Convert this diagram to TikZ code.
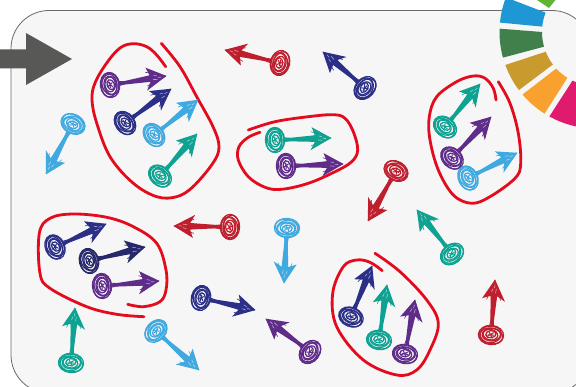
\documentclass[tikz,border=0pt]{standalone}
\definecolor{panelfill}{HTML}{F6F6F6}
\definecolor{panelline}{HTML}{6A6A6A}
\definecolor{arrowgray}{HTML}{585857}
\definecolor{loopred}{HTML}{E30B1D}
\definecolor{cpurple}{HTML}{5F2C8A}
\definecolor{cnavy}{HTML}{2B2F86}
\definecolor{cdark}{HTML}{26286B}
\definecolor{csky}{HTML}{3FA9E0}
\definecolor{cteal}{HTML}{0DA291}
\definecolor{cred}{HTML}{BE1E2D}
\definecolor{wblue}{HTML}{1F97D4}
\definecolor{wgreen}{HTML}{41804A}
\definecolor{wgold}{HTML}{C99A2E}
\definecolor{worange}{HTML}{F9A12E}
\definecolor{wpink}{HTML}{E01A6C}
\definecolor{wlime}{HTML}{5DB531}
\tikzset{
  redloop/.style={draw=loopred,line width=2.8pt,line cap=round,line join=round},
  scrib/.style={line width=1.25pt,line cap=round},
  hatch/.style={draw=panelfill,line width=0.6pt,opacity=0.6,line cap=round},
}
% colour, tail x,y, tip x,y
\newcommand\pin[5]{%
  \pgfmathsetmacro\pinang{atan2(-(#5-#3),#4-#2)}%
  \pgfmathsetmacro\pinlen{veclen(#4-#2,#5-#3)}%
  \begin{scope}[shift={(#2,#3)},rotate=\pinang]
    \draw[scrib,draw=#1] (0,0) ellipse [x radius=9.6,y radius=12.6];
    \draw[scrib,draw=#1,rotate=8] (0.6,-0.8) ellipse [x radius=8.4,y radius=11.2];
    \draw[scrib,draw=#1,rotate=-8] (-0.8,0.6) ellipse [x radius=7.8,y radius=11.4];
    \draw[scrib,draw=#1,rotate=5] (0.4,0.4) ellipse [x radius=6.4,y radius=9.2];
    \draw[scrib,draw=#1,rotate=-6] (0.2,-0.6) ellipse [x radius=5.2,y radius=7.4];
    \draw[scrib,draw=#1,rotate=12] (0.8,0) ellipse [x radius=3.6,y radius=5.2];
    \draw[scrib,draw=#1,line width=1pt] (-1.5,-3.5) -- (2.5,2.5) (-3,1.5) -- (2.5,-2) (0,-3) -- (0,3);
    \fill[#1] (8,-1.2) -- (\pinlen-14,-3.4) -- (\pinlen-14,3.4) -- (8,1.5) -- cycle;
    \draw[#1,line width=0.9pt] (8,2.2) -- (\pinlen-13,-3.2) (8,-2.2) -- (\pinlen-13,3.2);
    \fill[#1] (\pinlen+0.5,0) -- (\pinlen-21,11.5) -- (\pinlen-16,3) -- (\pinlen-16,-3) -- (\pinlen-19,-11.5) -- cycle;
    \draw[#1,line width=0.6pt] (\pinlen,0) -- (\pinlen-20,7) (\pinlen,0) -- (\pinlen-20,-7);
    \draw[hatch] (\pinlen-12,-2.5) -- (\pinlen-9,-1.5) (\pinlen-13,1.5) -- (\pinlen-9,2) (\pinlen-8,0) -- (\pinlen-5,0.4);
  \end{scope}}
% colour, outer start, outer end, inner end, inner start
\newcommand\wheelseg[5]{%
  \fill[#1] plot[smooth,domain=#2:#3,samples=9] ({596+96.5*cos(\x)},{32+96.5*sin(\x)})
    -- plot[smooth,domain=#4:#5,samples=9] ({596+54*cos(\x)},{32+54*sin(\x)}) -- cycle;}
\begin{document}
\begin{tikzpicture}[x=1pt,y=-1pt]
  \useasboundingbox (0,0) rectangle (576,387);
  \begin{scope}
    \clip (0,0) rectangle (576,387);
    \fill[white] (0,0) rectangle (576,387);
    \draw[draw=panelline,fill=panelfill,line width=0.8pt,rounded corners=38pt] (11,10.5) rectangle (590,393);
    % entry arrow
    \fill[arrowgray] (0,49.5) -- (26,49.5) -- (26,33) -- (72,59) -- (26,85) -- (26,68.5) -- (0,68.5) -- cycle;
    % wheel
    \fill[wlime] (534,-2) -- (549,8) -- (557,-2) -- cycle;
    \wheelseg{wblue}{201}{185.6}{185.7}{201}
    \wheelseg{wgreen}{182}{164.6}{164.2}{180}
    \wheelseg{wgold}{160}{143}{143}{158.6}
    \wheelseg{worange}{139.6}{122.2}{122}{137.4}
    \wheelseg{wpink}{118.9}{95}{95}{115.8}
    % loops
    \draw[redloop] plot[smooth,tension=0.6] coordinates {(165.7,66.7) (156.7,55) (146.7,46.7) (133,43.7) (120,48) (106.7,63) (95,83) (92,100) (96.7,123) (110,156.7) (133,183) (156.7,196.7) (176.7,196.7) (193,186.7) (213,163) (219,146.7) (213,126.7) (196.7,96.7) (180,66.7) (161.3,43.3)};
    \draw[redloop] plot[smooth,tension=0.6] coordinates {(260,132.3) (248.3,137.3) (239,146.7) (238.3,160) (248.3,176.7) (265,187.3) (281.7,189.3) (308.3,183.3) (335,171.7) (351.7,161.7) (357.7,150) (353.3,131.7) (345,118.3) (333.3,114.7) (308.3,116.7) (275,121.7) (248.3,130)};
    \draw[redloop] plot[smooth,tension=0.6] coordinates {(496,100) (493.3,88.3) (485,78.3) (473.3,76) (456.7,81.7) (436.7,96.7) (429.3,116.7) (430,140) (438.3,170) (453.3,195) (471.7,203.3) (490,196.7) (515,178.3) (520.7,163.3) (518.3,133.3) (510,103.3) (498.3,81.7)};
    \draw[redloop] plot[smooth,tension=0.6] coordinates {(127.7,304.3) (143.3,306.7) (160,301.7) (166,290) (166,270) (156.7,243.3) (133.3,226.7) (106.7,217.3) (73.3,214) (50,218.3) (39.3,233.3) (40,273.3) (50,288.3) (86.7,306.7) (116.7,314.3) (144,316.7)};
    \draw[redloop] plot[smooth,tension=0.6] coordinates {(382.3,270.7) (370,262.3) (356.7,260) (343.3,266.7) (332.7,293.3) (336.7,326.7) (363.3,360) (396.7,375) (416.7,370) (430,350) (438.3,323.3) (426.7,300) (400,271.7) (375,253.3)};
    % pins
    \pin{cpurple}{110}{85}{166}{76}
    \pin{cnavy}{125}{123}{171}{89}
    \pin{csky}{154}{135}{198}{100}
    \pin{cteal}{160}{176}{197}{134}
    \pin{csky}{73}{124}{46}{174}
    \pin{cred}{280}{63}{225}{50}
    \pin{cnavy}{365}{88}{323}{52}
    \pin{cteal}{275}{140}{331}{138}
    \pin{cpurple}{286}{166}{343}{164}
    \pin{cteal}{445}{127}{480}{84}
    \pin{cpurple}{452}{158}{491}{117}
    \pin{csky}{468}{178}{517}{153}
    \pin{cred}{396}{171}{368}{221}
    \pin{cteal}{452}{254}{417}{210}
    \pin{cred}{491}{335}{495}{280}
    \pin{cnavy}{55}{247}{106}{224}
    \pin{cdark}{89}{261}{145}{247}
    \pin{cpurple}{102}{286}{159}{281}
    \pin{cred}{230}{227}{174}{226}
    \pin{csky}{287}{228}{284}{283}
    \pin{cnavy}{201}{298}{255}{310}
    \pin{cpurple}{310}{352}{266}{319}
    \pin{csky}{156}{331}{199}{370}
    \pin{cteal}{71}{363}{75}{308}
    \pin{cnavy}{351}{317}{372}{266}
    \pin{cteal}{379}{340}{387}{285}
    \pin{cpurple}{405}{354}{415}{300}
  \end{scope}
\end{tikzpicture}
\end{document}
